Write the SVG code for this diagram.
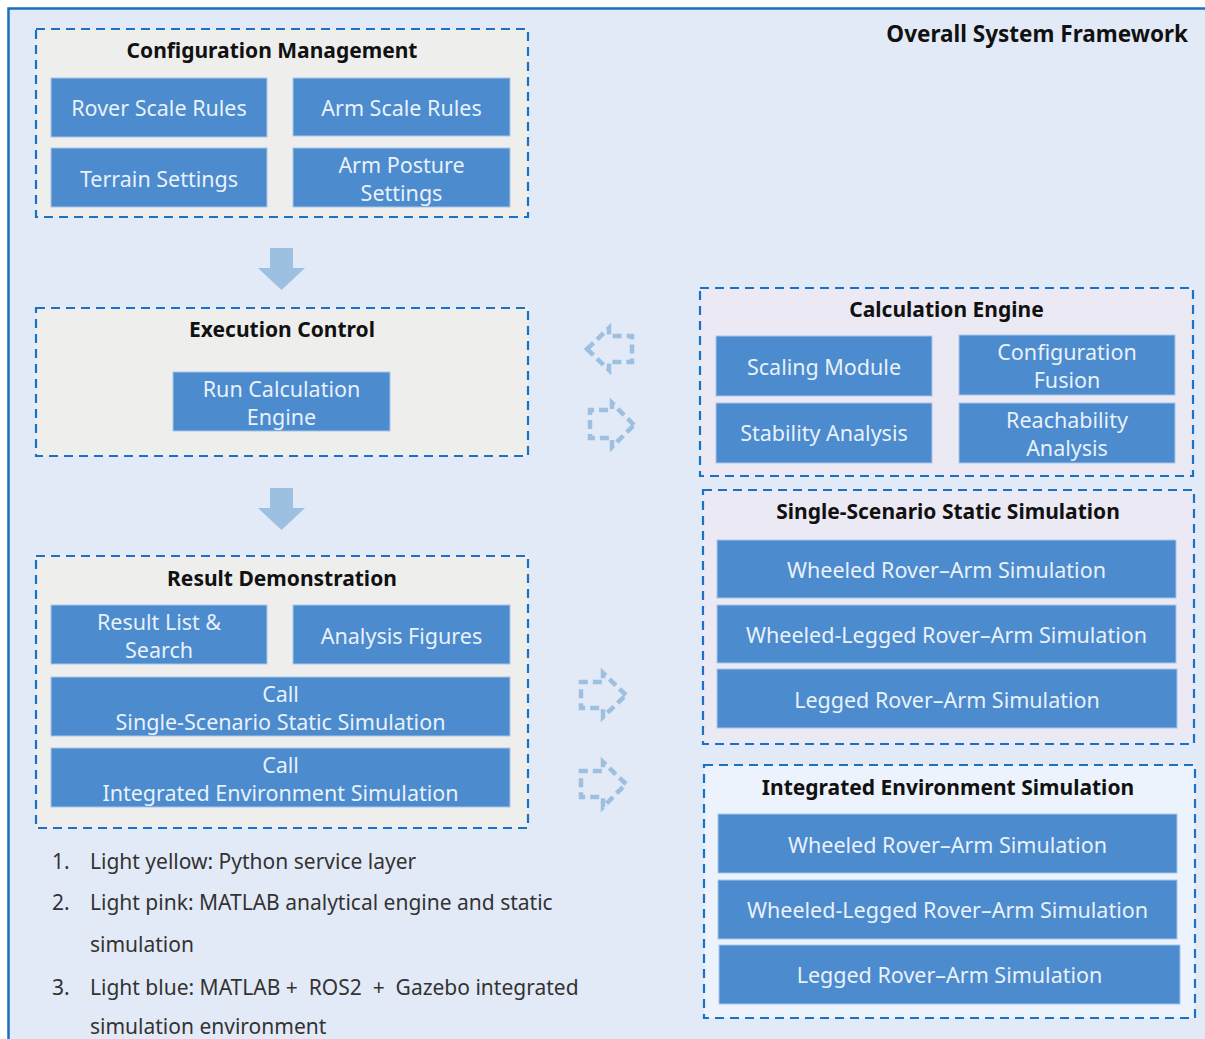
<svg xmlns="http://www.w3.org/2000/svg" width="1205" height="1039" viewBox="0 0 1205 1039">
  <style>
    .panel { stroke: #1a72c6; stroke-width: 2.2; stroke-dasharray: 9 6; }
    .p-gray { fill: #eeeeed; }
    .p-lilac { fill: #ebe9f4; }
    .p-blue { fill: #edf3fc; }
    .box { fill: #4b8bce; stroke: #a8c6ea; stroke-width: 1; }
    .title { font-family: "Noto Sans", "Open Sans", sans-serif; font-weight: bold; font-size: 21px; fill: #111111; text-anchor: middle; }
    .lbl { font-family: "Noto Sans", "Open Sans", sans-serif; font-size: 21.5px; fill: #e9f1fb; text-anchor: middle; }
    .legend { font-family: "Noto Sans", "Open Sans", sans-serif; font-size: 21px; fill: #333333; }
    .flow { fill: #9dbfe0; }
    .call { fill: none; stroke: #9dbfe0; stroke-width: 4.5; stroke-dasharray: 9 5; stroke-linejoin: miter; }
  </style>

  <!-- canvas and outer frame -->
  <rect x="0" y="0" width="1205" height="1039" fill="#ffffff"/>
  <rect x="8.5" y="8.5" width="1210" height="1040" fill="#e3eaf7" stroke="#1b6fbe" stroke-width="2.5"/>
  <text x="1188" y="42" class="title" style="text-anchor:end;font-size:22.5px">Overall System Framework</text>

  <!-- Configuration Management -->
  <g id="config-management">
    <rect x="36" y="29" width="492" height="188" class="panel p-gray"/>
    <text x="272" y="58" class="title">Configuration Management</text>
    <g id="rover-scale-rules">
      <rect x="51" y="78" width="216" height="59" class="box"/>
      <text x="159" y="116" class="lbl">Rover Scale Rules</text>
    </g>
    <g id="arm-scale-rules">
      <rect x="293" y="78" width="217" height="58" class="box"/>
      <text x="401.5" y="116" class="lbl">Arm Scale Rules</text>
    </g>
    <g id="terrain-settings">
      <rect x="51" y="148" width="216" height="59" class="box"/>
      <text x="159" y="187" class="lbl">Terrain Settings</text>
    </g>
    <g id="arm-posture-settings">
      <rect x="293" y="148" width="217" height="59" class="box"/>
      <text x="401.5" y="173" class="lbl">Arm Posture</text>
      <text x="401.5" y="201" class="lbl">Settings</text>
    </g>
  </g>

  <!-- Execution Control -->
  <g id="execution-control">
    <rect x="36" y="308" width="492" height="148" class="panel p-gray"/>
    <text x="282" y="337" class="title">Execution Control</text>
    <g id="run-calculation-engine">
      <rect x="173" y="372" width="217" height="59" class="box"/>
      <text x="281.5" y="397" class="lbl">Run Calculation</text>
      <text x="281.5" y="425" class="lbl">Engine</text>
    </g>
  </g>

  <!-- Result Demonstration -->
  <g id="result-demonstration">
    <rect x="36" y="556" width="492" height="272" class="panel p-gray"/>
    <text x="282" y="586" class="title">Result Demonstration</text>
    <g id="result-list-search">
      <rect x="51" y="605" width="216" height="59" class="box"/>
      <text x="159" y="630" class="lbl">Result List &amp;</text>
      <text x="159" y="658" class="lbl">Search</text>
    </g>
    <g id="analysis-figures">
      <rect x="293" y="605" width="217" height="59" class="box"/>
      <text x="401.5" y="644" class="lbl">Analysis Figures</text>
    </g>
    <g id="call-single-scenario">
      <rect x="51" y="677" width="459" height="59" class="box"/>
      <text x="280.5" y="702" class="lbl">Call</text>
      <text x="280.5" y="730" class="lbl">Single-Scenario Static Simulation</text>
    </g>
    <g id="call-integrated">
      <rect x="51" y="748" width="459" height="59" class="box"/>
      <text x="280.5" y="773" class="lbl">Call</text>
      <text x="280.5" y="801" class="lbl">Integrated Environment Simulation</text>
    </g>
  </g>

  <!-- Calculation Engine -->
  <g id="calculation-engine">
    <rect x="700" y="288" width="493" height="188" class="panel p-lilac"/>
    <text x="946.5" y="317" class="title">Calculation Engine</text>
    <g id="scaling-module">
      <rect x="716" y="336" width="216" height="60" class="box"/>
      <text x="824" y="375" class="lbl">Scaling Module</text>
    </g>
    <g id="configuration-fusion">
      <rect x="959" y="335" width="216" height="60" class="box"/>
      <text x="1067" y="360" class="lbl">Configuration</text>
      <text x="1067" y="388" class="lbl">Fusion</text>
    </g>
    <g id="stability-analysis">
      <rect x="716" y="403" width="216" height="60" class="box"/>
      <text x="824" y="441" class="lbl">Stability Analysis</text>
    </g>
    <g id="reachability-analysis">
      <rect x="959" y="403" width="216" height="60" class="box"/>
      <text x="1067" y="428" class="lbl">Reachability</text>
      <text x="1067" y="456" class="lbl">Analysis</text>
    </g>
  </g>

  <!-- Single-Scenario Static Simulation -->
  <g id="single-scenario-simulation">
    <rect x="703" y="490" width="491" height="254" class="panel p-lilac"/>
    <text x="948" y="519" class="title">Single-Scenario Static Simulation</text>
    <g id="ss-wheeled">
      <rect x="717" y="540" width="459" height="58" class="box"/>
      <text x="946.5" y="578" class="lbl">Wheeled Rover–Arm Simulation</text>
    </g>
    <g id="ss-wheeled-legged">
      <rect x="717" y="605" width="459" height="58" class="box"/>
      <text x="946.5" y="643" class="lbl">Wheeled-Legged Rover–Arm Simulation</text>
    </g>
    <g id="ss-legged">
      <rect x="717" y="669" width="460" height="59" class="box"/>
      <text x="947" y="708" class="lbl">Legged Rover–Arm Simulation</text>
    </g>
  </g>

  <!-- Integrated Environment Simulation -->
  <g id="integrated-simulation">
    <rect x="704" y="765" width="491" height="253" class="panel p-blue"/>
    <text x="948" y="795" class="title">Integrated Environment Simulation</text>
    <g id="ie-wheeled">
      <rect x="718" y="814" width="459" height="59" class="box"/>
      <text x="947.5" y="853" class="lbl">Wheeled Rover–Arm Simulation</text>
    </g>
    <g id="ie-wheeled-legged">
      <rect x="718" y="880" width="459" height="59" class="box"/>
      <text x="947.5" y="918" class="lbl">Wheeled-Legged Rover–Arm Simulation</text>
    </g>
    <g id="ie-legged">
      <rect x="719" y="945" width="461" height="59" class="box"/>
      <text x="949.5" y="983" class="lbl">Legged Rover–Arm Simulation</text>
    </g>
  </g>

  <!-- connectors: solid flow arrows and dashed call arrows -->
  <g id="connectors">
    <polygon class="flow" points="270,248 293,248 293,268 305,268 281.5,290 258,268 270,268"/>
    <polygon class="flow" points="270,488 293,488 293,508 305,508 281.5,530 258,508 270,508"/>
    <polygon class="call" points="587,349 609,328 609,336 632,336 632,362 609,362 609,370"/>
    <polygon class="call" points="634,425 612,403 612,410 590,410 590,438 612,438 612,447"/>
    <polygon class="call" points="626,695 603,673 603,682 581,682 581,708 603,708 603,717"/>
    <polygon class="call" points="626,784 603,762 603,771 581,771 581,797 603,797 603,807"/>
  </g>

  <!-- legend -->
  <g id="legend" class="legend">
    <text x="52" y="869">1.</text>
    <text x="90" y="869">Light yellow: Python service layer</text>
    <text x="52" y="910">2.</text>
    <text x="90" y="910">Light pink: MATLAB analytical engine and static</text>
    <text x="90" y="952">simulation</text>
    <text x="52" y="995">3.</text>
    <text x="90" y="995" style="white-space:pre">Light blue: MATLAB +  ROS2  +  Gazebo integrated</text>
    <text x="90" y="1034">simulation environment</text>
  </g>
</svg>
